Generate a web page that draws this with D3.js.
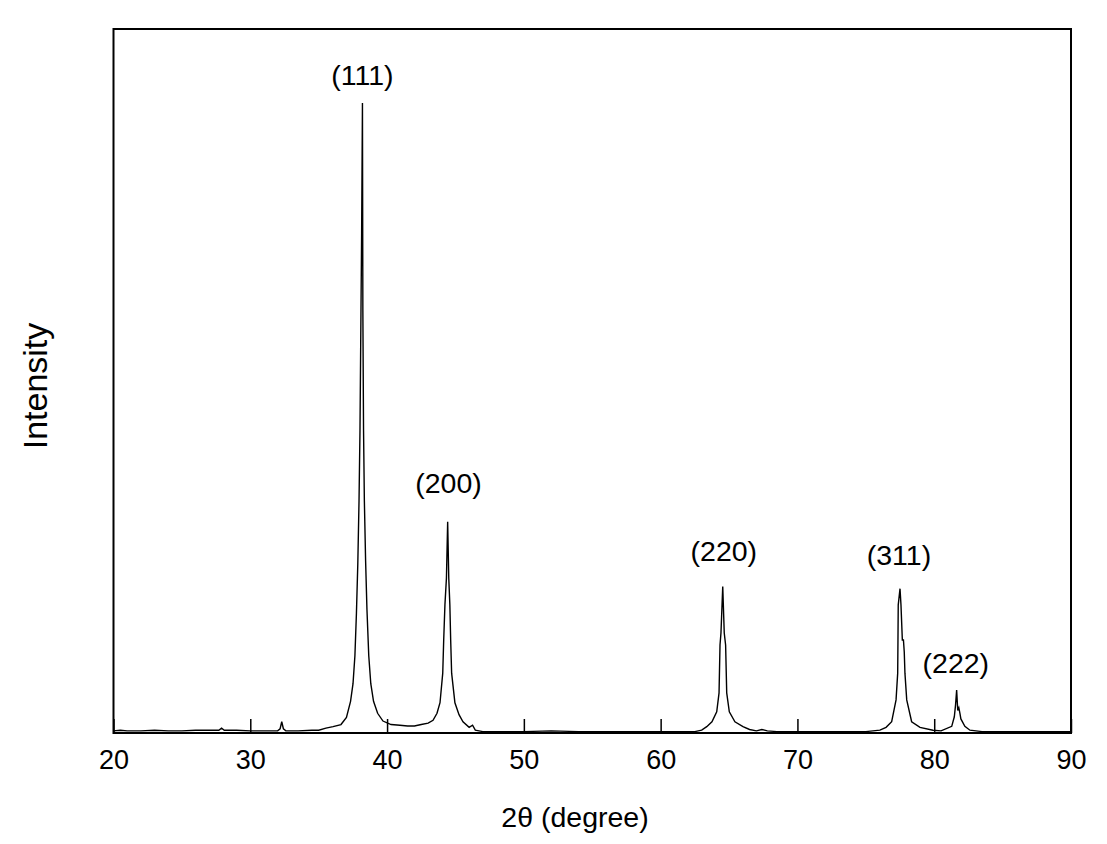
<!DOCTYPE html>
<html>
<head>
<meta charset="utf-8">
<script src="https://cdn.jsdelivr.net/npm/d3@7"></script>
<style>
    body { margin: 0; background: #fff; }
    svg text { font-family: "Liberation Sans", Arial, sans-serif; fill: #000; }
</style>
</head>
<body>
<div id="chart"></div>
<script>
// XRD pattern (2θ in degrees, intensity in arbitrary units)
const twoTheta = [
    20.0, 20.5, 21.0, 22.0, 23.0, 24.0, 25.0, 26.0, 27.0, 27.7, 27.9, 28.1, 29.0, 30.0, 31.0,
    32.0, 32.18, 32.30, 32.42, 32.6, 33.5, 34.5, 35.0, 35.53, 36.05, 36.63, 37.03, 37.33, 37.51,
    37.65, 37.76, 37.86, 37.95, 38.02, 38.09, 38.14, 38.20, 38.23, 38.28, 38.34, 38.43, 38.53,
    38.66, 38.81, 39.01, 39.31, 39.70, 40.29, 40.94, 41.5, 42.0, 42.5, 43.0, 43.36, 43.65, 43.87,
    44.07, 44.14, 44.23, 44.34, 44.43, 44.51, 44.59, 44.65, 44.72, 44.96, 45.26, 45.55, 46.0,
    46.25, 46.45, 47.0, 48.0, 50.0, 52.0, 54.0, 56.0, 58.0, 60.0, 62.0, 62.5, 63.0, 63.37, 63.75,
    64.10, 64.27, 64.34, 64.41, 64.54, 64.65, 64.75, 64.83, 65.02, 65.43, 66.02, 66.5, 67.0, 67.4,
    67.8, 68.5, 70.0, 72.0, 74.0, 75.0, 76.03, 76.48, 76.89, 77.21, 77.33, 77.35, 77.37, 77.50,
    77.57, 77.67, 77.75, 77.81, 77.86, 77.99, 78.35, 78.96, 79.91, 80.5, 81.28, 81.47, 81.56,
    81.64, 81.72, 81.80, 81.88, 81.95, 82.24, 82.61, 83.5, 85.0, 87.0, 90.0
];
const intensity = [
    3, 4, 3, 3, 4, 3, 3, 4, 4, 4, 7, 4, 4, 3, 3,
    3, 6, 16, 6, 3, 3, 4, 4, 7, 9, 12, 22, 45, 70,
    110, 170, 240, 330, 430, 594, 709, 895, 600, 430, 330, 245, 175,
    110, 70, 45, 28, 17, 12, 11, 10, 10, 12, 14, 18, 28, 43,
    85, 132, 182, 220, 300, 220, 182, 132, 85, 43, 26, 16, 8,
    11, 4, 2, 2, 2, 3, 2, 2, 2, 2, 2, 2, 4, 9, 16,
    30, 57, 125, 142, 208, 142, 125, 57, 30, 16, 9, 5, 3, 5,
    3, 2, 2, 2, 2, 2, 4, 8, 16, 47, 85, 132, 182, 205,
    182, 132, 132, 115, 85, 47, 16, 8, 4, 3, 9.5, 23, 40,
    61, 32, 36, 28, 20, 9.5, 4, 2, 2, 2, 2
];

const peakLabels = ["(111)", "(200)", "(220)", "(311)", "(222)"];
const peakLabelTheta = [38.2, 44.49, 64.62, 77.42, 81.58];
const peakLabelIntensity = [921, 341, 244, 239, 85];

const xTicks = [20, 30, 40, 50, 60, 70, 80, 90];

const margin = { top: 29, right: 36, bottom: 111, left: 113.5 };
const containerWidth = 1107;
const containerHeight = 844;
const width = containerWidth - margin.left - margin.right;
const height = containerHeight - margin.top - margin.bottom;

const svg = d3.select("#chart")
    .append("svg")
    .attr("width", containerWidth)
    .attr("height", containerHeight);

const chart = svg.append("g")
    .attr("transform", `translate(${margin.left},${margin.top})`);

const xScale = d3.scaleLinear().domain([20, 90]).range([0, width]);
const yScale = d3.scaleLinear().domain([0, 1000]).range([height, 0]);

const points = twoTheta.map((t, i) => ({ t: t, v: intensity[i] }));

const line = d3.line()
    .x((d) => xScale(d.t))
    .y((d) => yScale(d.v));

chart.append("path")
    .datum(points)
    .attr("fill", "none")
    .attr("stroke", "#000")
    .attr("stroke-width", 1.4)
    .attr("stroke-linejoin", "miter")
    .attr("d", line);

// inward ticks on the bottom axis
const xAxis = chart.append("g")
    .attr("transform", `translate(0,${height})`)
    .call(d3.axisBottom(xScale).tickValues(xTicks).tickSize(-14).tickSizeOuter(0).tickPadding(17));
xAxis.select(".domain").remove();
xAxis.selectAll(".tick line").attr("stroke", "#000").attr("stroke-width", 1.5);
xAxis.selectAll(".tick text")
    .attr("font-size", 27)
    .attr("font-family", "Liberation Sans, Arial, sans-serif")
    .attr("fill", "#000");

// frame
chart.append("rect")
    .attr("x", 0)
    .attr("y", 0)
    .attr("width", width)
    .attr("height", height)
    .attr("fill", "none")
    .attr("stroke", "#000")
    .attr("stroke-width", 2);

chart.selectAll(".peak-label")
    .data(peakLabels)
    .enter()
    .append("text")
    .attr("class", "peak-label")
    .attr("x", (d, i) => xScale(peakLabelTheta[i]))
    .attr("y", (d, i) => yScale(peakLabelIntensity[i]))
    .attr("text-anchor", "middle")
    .attr("font-size", 28.5)
    .text((d) => d);

svg.append("text")
    .attr("x", 575)
    .attr("y", 827)
    .attr("text-anchor", "middle")
    .attr("font-size", 28.5)
    .text("2θ (degree)");

svg.append("text")
    .attr("transform", "translate(47,386) rotate(-90)")
    .attr("text-anchor", "middle")
    .attr("font-size", 34)
    .text("Intensity");
</script>
</body>
</html>
